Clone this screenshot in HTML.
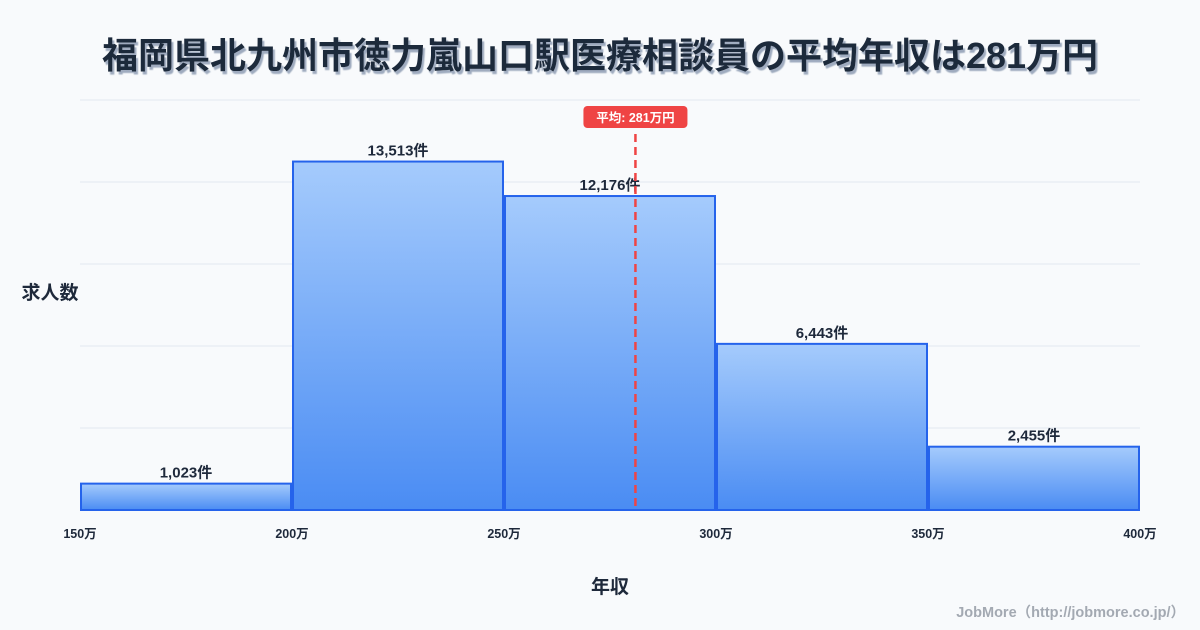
<!DOCTYPE html>
<html><head><meta charset="utf-8"><style>
html,body{margin:0;padding:0;background:#f8fafc;}
svg{display:block;font-family:"Liberation Sans","Noto Sans CJK JP",sans-serif;}
</style></head><body>
<svg id="chart" width="1200" height="630" viewBox="0 0 1200 630" xmlns="http://www.w3.org/2000/svg">
<defs>
<linearGradient id="g" x1="0" y1="0" x2="0" y2="1"><stop offset="0" stop-color="#a5cbfc"/><stop offset="1" stop-color="#4a8cf3"/></linearGradient>
<filter id="sh" x="-5%" y="-20%" width="110%" height="150%"><feDropShadow dx="2" dy="3" stdDeviation="0.5" flood-color="#94a3b8" flood-opacity="0.9"/></filter>
</defs>
<text x="600" y="68" text-anchor="middle" font-size="36" font-weight="bold" fill="#1e293b" filter="url(#sh)">福岡県北九州市徳力嵐山口駅医療相談員の平均年収は281万円</text>
<g id="grid"></g>
<g id="bars"></g>
<g id="xticks"></g>
<text x="50" y="299" text-anchor="middle" font-size="19" font-weight="bold" fill="#1e293b">求人数</text>
<text x="610" y="593" text-anchor="middle" font-size="19" font-weight="bold" fill="#1e293b">年収</text>
<g id="avg"></g>
<text x="1185" y="617" text-anchor="end" font-size="14.5" font-weight="bold" fill="#a3a9b2">JobMore（http://jobmore.co.jp/）</text>
</svg>
<script>
const binStarts = [150, 200, 250, 300, 350];
const counts = [1023, 13513, 12176, 6443, 2455];
const xTicks = [150, 200, 250, 300, 350, 400];
const avgValue = 281;
const yMax = 15900;
const gridCount = 5;

const NS = "http://www.w3.org/2000/svg";
const L = 80, R = 1140, T = 100, B = 510;
const xs = v => L + (v - 150) / 250 * (R - L);
const ys = v => B - v / yMax * (B - T);
function mk(tag, attrs, parent, text) {
  const e = document.createElementNS(NS, tag);
  for (const k in attrs) e.setAttribute(k, attrs[k]);
  if (text !== undefined) e.textContent = text;
  parent.appendChild(e);
  return e;
}
const grid = document.getElementById('grid');
for (let i = 0; i <= gridCount; i++) {
  const y = B - (B - T) * i / gridCount;
  const ln = mk('line', {x1: L, x2: R, y1: y, y2: y, stroke: '#e2e8f0', 'stroke-width': 1}, grid);
  
  
}
const bars = document.getElementById('bars');
counts.forEach((c, i) => {
  const x0 = xs(binStarts[i]) + 1, x1 = xs(binStarts[i] + 50) - 1;
  const r = mk('rect', {x: x0, y: ys(c), width: x1 - x0, height: B - ys(c), fill: 'url(#g)', stroke: '#2563eb', 'stroke-width': 2}, bars);
  
  
  const t = mk('text', {x: (x0 + x1) / 2, y: ys(c) - 6, 'text-anchor': 'middle', 'font-size': 15, 'font-weight': 'bold', fill: '#1e293b'}, bars, c.toLocaleString('en-US') + '件');
  
  
});
const xt = document.getElementById('xticks');
xTicks.forEach(v => {
  const t = mk('text', {x: xs(v), y: 538, 'text-anchor': 'middle', 'font-size': 12.5, 'font-weight': 'bold', fill: '#1e293b'}, xt, v + '万');
  
  
});
const avg = document.getElementById('avg');
const ax = xs(avgValue);
const al = mk('line', {x1: ax, x2: ax, y1: 134, y2: B, stroke: '#ef4444', 'stroke-width': 2.5, 'stroke-dasharray': '8,5'}, avg);


const ab = mk('rect', {x: ax - 52, y: 106, width: 104, height: 22, rx: 4, fill: '#ef4444'}, avg);


const at = mk('text', {x: ax, y: 122, 'text-anchor': 'middle', 'font-size': 12.5, 'font-weight': 'bold', fill: '#ffffff'}, avg, '平均: ' + avgValue + '万円');


</script>
</body></html>
